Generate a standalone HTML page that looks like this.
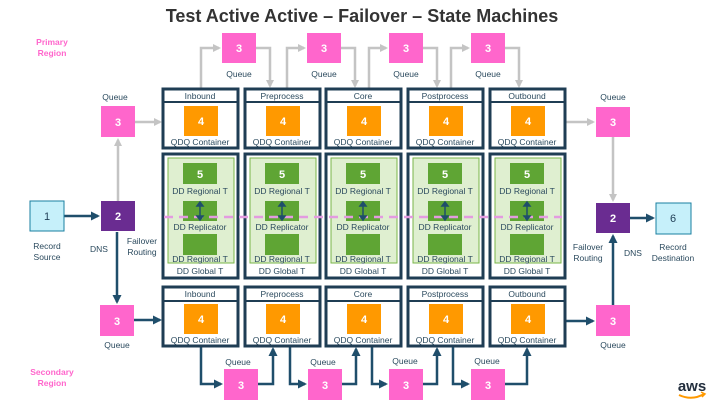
<!DOCTYPE html>
<html><head><meta charset="utf-8"><style>
html,body{margin:0;padding:0;background:#fff}
svg{display:block}
text{font-family:"Liberation Sans",sans-serif}
.l{font-size:8.5px;fill:#2b4a5e;text-anchor:middle}
.n{font-size:11px;fill:#fff;text-anchor:middle;font-weight:bold}
.box{fill:#fff;stroke:#1f3d54;stroke-width:3}
.q{fill:#ff66cc}
.o{fill:#ff9900}
.g{fill:#5fa534}
.gl{fill:#dfefd0;stroke:#7ab648;stroke-width:1}
.ga{stroke:#c4c4c4;stroke-width:2.5;fill:none}
.da{stroke:#1f4e6b;stroke-width:2.5;fill:none}
</style></head><body>
<svg width="720" height="405" viewBox="0 0 720 405" xmlns="http://www.w3.org/2000/svg">
<defs>
<marker id="gh" markerWidth="8" markerHeight="8" refX="6" refY="4" orient="auto" markerUnits="userSpaceOnUse"><path d="M0,0 L8,4 L0,8 z" fill="#c4c4c4"/></marker>
<marker id="dh" markerWidth="9" markerHeight="9" refX="7" refY="4.5" orient="auto" markerUnits="userSpaceOnUse"><path d="M0,0 L9,4.5 L0,9 z" fill="#1f4e6b"/></marker>
</defs>
<text x="362" y="22" text-anchor="middle" style="font-size:18px;font-weight:bold;fill:#333">Test Active Active – Failover – State Machines</text>
<text x="52" y="45" text-anchor="middle" style="font-size:8.5px;font-weight:bold;fill:#ff66cc">Primary</text>
<text x="52" y="56" text-anchor="middle" style="font-size:8.5px;font-weight:bold;fill:#ff66cc">Region</text>
<text x="52" y="375" text-anchor="middle" style="font-size:8.5px;font-weight:bold;fill:#ff66cc">Secondary</text>
<text x="52" y="386" text-anchor="middle" style="font-size:8.5px;font-weight:bold;fill:#ff66cc">Region</text>

<!-- top connectors (gray) -->
<path class="ga" d="M201,89 V48 H219" marker-end="url(#gh)"/>
<path class="ga" d="M256,48 H270 V86" marker-end="url(#gh)"/>
<path class="ga" d="M287,89 V48 H304" marker-end="url(#gh)"/>
<path class="ga" d="M341,48 H355 V86" marker-end="url(#gh)"/>
<path class="ga" d="M369,89 V48 H386" marker-end="url(#gh)"/>
<path class="ga" d="M423,48 H437 V86" marker-end="url(#gh)"/>
<path class="ga" d="M451,89 V48 H468" marker-end="url(#gh)"/>
<path class="ga" d="M505,48 H519 V86" marker-end="url(#gh)"/>
<!-- bottom connectors (dark) -->
<path class="da" d="M201,346 V384 H221" marker-end="url(#dh)"/>
<path class="da" d="M257,384 H273 V349" marker-end="url(#dh)"/>
<path class="da" d="M290,346 V384 H305" marker-end="url(#dh)"/>
<path class="da" d="M342,384 H356 V349" marker-end="url(#dh)"/>
<path class="da" d="M372,346 V384 H386" marker-end="url(#dh)"/>
<path class="da" d="M423,384 H437 V349" marker-end="url(#dh)"/>
<path class="da" d="M453,346 V384 H468" marker-end="url(#dh)"/>
<path class="da" d="M505,384 H527 V349" marker-end="url(#dh)"/>
<!-- left -->
<path class="da" d="M64,216 H98" marker-end="url(#dh)"/>
<path class="ga" d="M118,201 V140" marker-end="url(#gh)"/>
<path class="ga" d="M135,122 H160" marker-end="url(#gh)"/>
<path class="da" d="M117,232 V302" marker-end="url(#dh)"/>
<path class="da" d="M134,320 H160" marker-end="url(#dh)"/>
<!-- right -->
<path class="ga" d="M565,122 H593" marker-end="url(#gh)"/>
<path class="ga" d="M613,137 V200" marker-end="url(#gh)"/>
<path class="da" d="M630,218 H653" marker-end="url(#dh)"/>
<path class="da" d="M613,305 V236" marker-end="url(#dh)"/>
<path class="da" d="M565,321 H593" marker-end="url(#dh)"/>

<!-- top queues -->
<rect class="q" x="222" y="33" width="34" height="30"/><text class="n" x="239" y="52">3</text><text class="l" x="239" y="77">Queue</text>
<rect class="q" x="307" y="33" width="34" height="30"/><text class="n" x="324" y="52">3</text><text class="l" x="324" y="77">Queue</text>
<rect class="q" x="389" y="33" width="34" height="30"/><text class="n" x="406" y="52">3</text><text class="l" x="406" y="77">Queue</text>
<rect class="q" x="471" y="33" width="34" height="30"/><text class="n" x="488" y="52">3</text><text class="l" x="488" y="77">Queue</text>
<!-- bottom queues -->
<rect class="q" x="224" y="369" width="34" height="31"/><text class="n" x="241" y="389">3</text><text class="l" x="238" y="365">Queue</text>
<rect class="q" x="308" y="369" width="34" height="31"/><text class="n" x="325" y="389">3</text><text class="l" x="323" y="365">Queue</text>
<rect class="q" x="389" y="369" width="34" height="31"/><text class="n" x="406" y="389">3</text><text class="l" x="405" y="364">Queue</text>
<rect class="q" x="471" y="369" width="34" height="31"/><text class="n" x="488" y="389">3</text><text class="l" x="487" y="364">Queue</text>

<!-- stage columns -->
<g id="c1">
<rect class="box" x="163" y="89" width="75" height="59"/><line x1="163" y1="102" x2="238" y2="102" stroke="#1f3d54" stroke-width="2"/>
<text class="l" x="200" y="99">Inbound</text><rect class="o" x="184" y="106" width="34" height="30"/><text class="n" x="201" y="125">4</text><text class="l" x="200" y="145">QDQ Container</text>
<rect class="box" x="163" y="154" width="75" height="124"/><rect class="gl" x="168" y="158" width="66" height="105"/>
<rect class="g" x="183" y="163" width="34" height="21"/><text class="n" x="200" y="178">5</text><text class="l" x="200" y="194">DD Regional T</text>
<rect class="g" x="183" y="201" width="34" height="20"/><text class="l" x="200" y="230">DD Replicator</text>
<rect class="g" x="183" y="234" width="34" height="21"/><text class="l" x="200" y="262">DD Regional T</text><text class="l" x="200" y="274">DD Global T</text>
<rect class="box" x="163" y="287" width="75" height="59"/><line x1="163" y1="301" x2="238" y2="301" stroke="#1f3d54" stroke-width="2"/>
<text class="l" x="200" y="297">Inbound</text><rect class="o" x="184" y="304" width="34" height="30"/><text class="n" x="201" y="323">4</text><text class="l" x="200" y="343">QDQ Container</text>
</g>
<g transform="translate(82,0)">
<rect class="box" x="163" y="89" width="75" height="59"/><line x1="163" y1="102" x2="238" y2="102" stroke="#1f3d54" stroke-width="2"/>
<text class="l" x="200" y="99">Preprocess</text><rect class="o" x="184" y="106" width="34" height="30"/><text class="n" x="201" y="125">4</text><text class="l" x="200" y="145">QDQ Container</text>
<rect class="box" x="163" y="154" width="75" height="124"/><rect class="gl" x="168" y="158" width="66" height="105"/>
<rect class="g" x="183" y="163" width="34" height="21"/><text class="n" x="200" y="178">5</text><text class="l" x="200" y="194">DD Regional T</text>
<rect class="g" x="183" y="201" width="34" height="20"/><text class="l" x="200" y="230">DD Replicator</text>
<rect class="g" x="183" y="234" width="34" height="21"/><text class="l" x="200" y="262">DD Regional T</text><text class="l" x="200" y="274">DD Global T</text>
<rect class="box" x="163" y="287" width="75" height="59"/><line x1="163" y1="301" x2="238" y2="301" stroke="#1f3d54" stroke-width="2"/>
<text class="l" x="200" y="297">Preprocess</text><rect class="o" x="184" y="304" width="34" height="30"/><text class="n" x="201" y="323">4</text><text class="l" x="200" y="343">QDQ Container</text>
</g>
<g transform="translate(163,0)">
<rect class="box" x="163" y="89" width="75" height="59"/><line x1="163" y1="102" x2="238" y2="102" stroke="#1f3d54" stroke-width="2"/>
<text class="l" x="200" y="99">Core</text><rect class="o" x="184" y="106" width="34" height="30"/><text class="n" x="201" y="125">4</text><text class="l" x="200" y="145">QDQ Container</text>
<rect class="box" x="163" y="154" width="75" height="124"/><rect class="gl" x="168" y="158" width="66" height="105"/>
<rect class="g" x="183" y="163" width="34" height="21"/><text class="n" x="200" y="178">5</text><text class="l" x="200" y="194">DD Regional T</text>
<rect class="g" x="183" y="201" width="34" height="20"/><text class="l" x="200" y="230">DD Replicator</text>
<rect class="g" x="183" y="234" width="34" height="21"/><text class="l" x="200" y="262">DD Regional T</text><text class="l" x="200" y="274">DD Global T</text>
<rect class="box" x="163" y="287" width="75" height="59"/><line x1="163" y1="301" x2="238" y2="301" stroke="#1f3d54" stroke-width="2"/>
<text class="l" x="200" y="297">Core</text><rect class="o" x="184" y="304" width="34" height="30"/><text class="n" x="201" y="323">4</text><text class="l" x="200" y="343">QDQ Container</text>
</g>
<g transform="translate(245,0)">
<rect class="box" x="163" y="89" width="75" height="59"/><line x1="163" y1="102" x2="238" y2="102" stroke="#1f3d54" stroke-width="2"/>
<text class="l" x="200" y="99">Postprocess</text><rect class="o" x="184" y="106" width="34" height="30"/><text class="n" x="201" y="125">4</text><text class="l" x="200" y="145">QDQ Container</text>
<rect class="box" x="163" y="154" width="75" height="124"/><rect class="gl" x="168" y="158" width="66" height="105"/>
<rect class="g" x="183" y="163" width="34" height="21"/><text class="n" x="200" y="178">5</text><text class="l" x="200" y="194">DD Regional T</text>
<rect class="g" x="183" y="201" width="34" height="20"/><text class="l" x="200" y="230">DD Replicator</text>
<rect class="g" x="183" y="234" width="34" height="21"/><text class="l" x="200" y="262">DD Regional T</text><text class="l" x="200" y="274">DD Global T</text>
<rect class="box" x="163" y="287" width="75" height="59"/><line x1="163" y1="301" x2="238" y2="301" stroke="#1f3d54" stroke-width="2"/>
<text class="l" x="200" y="297">Postprocess</text><rect class="o" x="184" y="304" width="34" height="30"/><text class="n" x="201" y="323">4</text><text class="l" x="200" y="343">QDQ Container</text>
</g>
<g transform="translate(327,0)">
<rect class="box" x="163" y="89" width="75" height="59"/><line x1="163" y1="102" x2="238" y2="102" stroke="#1f3d54" stroke-width="2"/>
<text class="l" x="200" y="99">Outbound</text><rect class="o" x="184" y="106" width="34" height="30"/><text class="n" x="201" y="125">4</text><text class="l" x="200" y="145">QDQ Container</text>
<rect class="box" x="163" y="154" width="75" height="124"/><rect class="gl" x="168" y="158" width="66" height="105"/>
<rect class="g" x="183" y="163" width="34" height="21"/><text class="n" x="200" y="178">5</text><text class="l" x="200" y="194">DD Regional T</text>
<rect class="g" x="183" y="201" width="34" height="20"/><text class="l" x="200" y="230">DD Replicator</text>
<rect class="g" x="183" y="234" width="34" height="21"/><text class="l" x="200" y="262">DD Regional T</text><text class="l" x="200" y="274">DD Global T</text>
<rect class="box" x="163" y="287" width="75" height="59"/><line x1="163" y1="301" x2="238" y2="301" stroke="#1f3d54" stroke-width="2"/>
<text class="l" x="200" y="297">Outbound</text><rect class="o" x="184" y="304" width="34" height="30"/><text class="n" x="201" y="323">4</text><text class="l" x="200" y="343">QDQ Container</text>
</g>

<!-- dashed pink line -->
<line x1="164" y1="217" x2="562" y2="217" stroke="#e39be0" stroke-width="2.5" stroke-dasharray="9,6"/>
<!-- replicator arrows -->
<g stroke="#1f4e6b" stroke-width="1.5" fill="#1f4e6b">
<line x1="200" y1="205" x2="200" y2="217"/><path d="M197,206 L200,202 L203,206 z M197,216 L200,220 L203,216 z"/>
<line x1="282" y1="205" x2="282" y2="217"/><path d="M279,206 L282,202 L285,206 z M279,216 L282,220 L285,216 z"/>
<line x1="363" y1="205" x2="363" y2="217"/><path d="M360,206 L363,202 L366,206 z M360,216 L363,220 L366,216 z"/>
<line x1="445" y1="205" x2="445" y2="217"/><path d="M442,206 L445,202 L448,206 z M442,216 L445,220 L448,216 z"/>
<line x1="527" y1="205" x2="527" y2="217"/><path d="M524,206 L527,202 L530,206 z M524,216 L527,220 L530,216 z"/>
</g>

<!-- left nodes -->
<rect x="30" y="201" width="34" height="30" fill="#c6f0fa" stroke="#1a7fa0" stroke-width="1"/><text x="47" y="220" text-anchor="middle" style="font-size:11px;fill:#1f3d54">1</text>
<text class="l" x="47" y="249">Record</text><text class="l" x="47" y="260">Source</text>
<rect x="101" y="201" width="34" height="30" fill="#6a2c91"/><text class="n" x="118" y="220">2</text>
<text class="l" x="99" y="252">DNS</text>
<text class="l" x="142" y="244">Failover</text><text class="l" x="142" y="255">Routing</text>
<rect class="q" x="101" y="106" width="34" height="31"/><text class="n" x="118" y="126">3</text><text class="l" x="115" y="100">Queue</text>
<rect class="q" x="100" y="305" width="34" height="31"/><text class="n" x="117" y="325">3</text><text class="l" x="117" y="348">Queue</text>

<!-- right nodes -->
<rect class="q" x="596" y="107" width="34" height="30"/><text class="n" x="613" y="126">3</text><text class="l" x="613" y="100">Queue</text>
<rect x="596" y="203" width="34" height="30" fill="#6a2c91"/><text class="n" x="613" y="222">2</text>
<rect x="656" y="203" width="35" height="31" fill="#c6f0fa" stroke="#1a7fa0" stroke-width="1"/><text x="673" y="222" text-anchor="middle" style="font-size:11px;fill:#1f3d54">6</text>
<text class="l" x="588" y="250">Failover</text><text class="l" x="588" y="261">Routing</text>
<text class="l" x="633" y="256">DNS</text>
<text class="l" x="673" y="250">Record</text><text class="l" x="673" y="261">Destination</text>
<rect class="q" x="596" y="305" width="34" height="31"/><text class="n" x="613" y="325">3</text><text class="l" x="613" y="348">Queue</text>

<!-- aws logo -->
<text x="692" y="391" text-anchor="middle" style="font-size:15px;fill:#232f3e;font-weight:bold">aws</text>
<path d="M679,395 Q692,401 704,394" stroke="#ff9900" stroke-width="2" fill="none"/>
<path d="M701,392 L705,394 L702,397" stroke="#ff9900" stroke-width="1.5" fill="none"/>
</svg>
</body></html>
